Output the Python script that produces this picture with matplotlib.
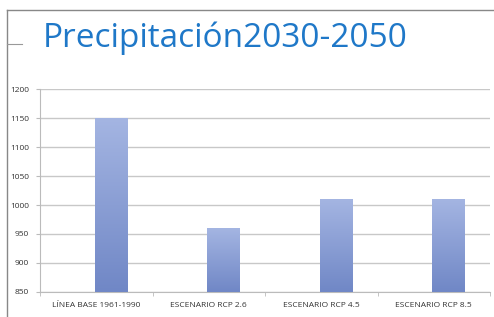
import numpy as np
import matplotlib.pyplot as plt
from matplotlib.lines import Line2D
from matplotlib.colors import LinearSegmentedColormap

categorias = ['LÍNEA BASE 1961-1990', 'ESCENARIO RCP 2.6', 'ESCENARIO RCP 4.5', 'ESCENARIO RCP 8.5']
precipitacion = [1150, 960, 1010, 1010]
y_ticks = [850, 900, 950, 1000, 1050, 1100, 1150, 1200]

plt.rcParams['font.family'] = ['Open Sans', 'DejaVu Sans']

fig = plt.figure(figsize=(4.94, 3.17), dpi=100)
ax = fig.add_axes([0.081, 0.079, 0.911, 0.64])

x = np.arange(len(categorias))
offset = 0.13
ancho = 0.29
bars = ax.bar(x + offset, precipitacion, width=ancho, bottom=0, color='none', zorder=3)

# gradient fill for the bars (light top, darker bottom)
cmap = LinearSegmentedColormap.from_list('barras', ['#7087c6', '#a4b5e2'])
grad = np.linspace(0, 1, 256).reshape(-1, 1)
for b, v in zip(bars, precipitacion):
    x0 = b.get_x()
    im = ax.imshow(grad, cmap=cmap, origin='lower', aspect='auto',
                   extent=[x0, x0 + b.get_width(), 850, v], zorder=3)
    im.set_clip_path(b)

ax.set_xlim(-0.5, len(categorias) - 0.5)
ax.set_ylim(850, 1200)
ax.set_yticks(y_ticks)
ax.set_xticks(x)
ax.set_xticklabels(categorias)
ax.set_xticks(np.arange(len(categorias) + 1) - 0.5, minor=True)
ax.tick_params(axis='x', which='major', length=0, pad=7, labelsize=6, colors='#333333')
ax.tick_params(axis='x', which='minor', length=3, color='#bbbbbb', direction='out')
ax.tick_params(axis='y', length=3, color='#bbbbbb', pad=5, labelsize=6, colors='#333333')
ax.yaxis.grid(True, color='#c8c8c8', linewidth=1.0, zorder=0)
ax.set_axisbelow(True)
for s in ['top', 'right']:
    ax.spines[s].set_visible(False)
ax.spines['left'].set_color('#bbbbbb')
ax.spines['bottom'].set_color('#bbbbbb')

# outer chart frame
fig.add_artist(Line2D([7 / 494, 7 / 494], [0, 1 - 10 / 317], color='#888888', lw=1.0))
fig.add_artist(Line2D([7 / 494, 1], [1 - 10 / 317, 1 - 10 / 317], color='#888888', lw=1.0))
fig.add_artist(Line2D([7 / 494, 22 / 494], [1 - 44 / 317, 1 - 44 / 317], color='#999999', lw=0.8))

fig.text(43 / 494, 1 - 47 / 317, 'Precipitación2030-2050', fontsize=24,
         color='#1f78c8', ha='left', va='baseline')

fig.savefig('out.png', dpi=100)
